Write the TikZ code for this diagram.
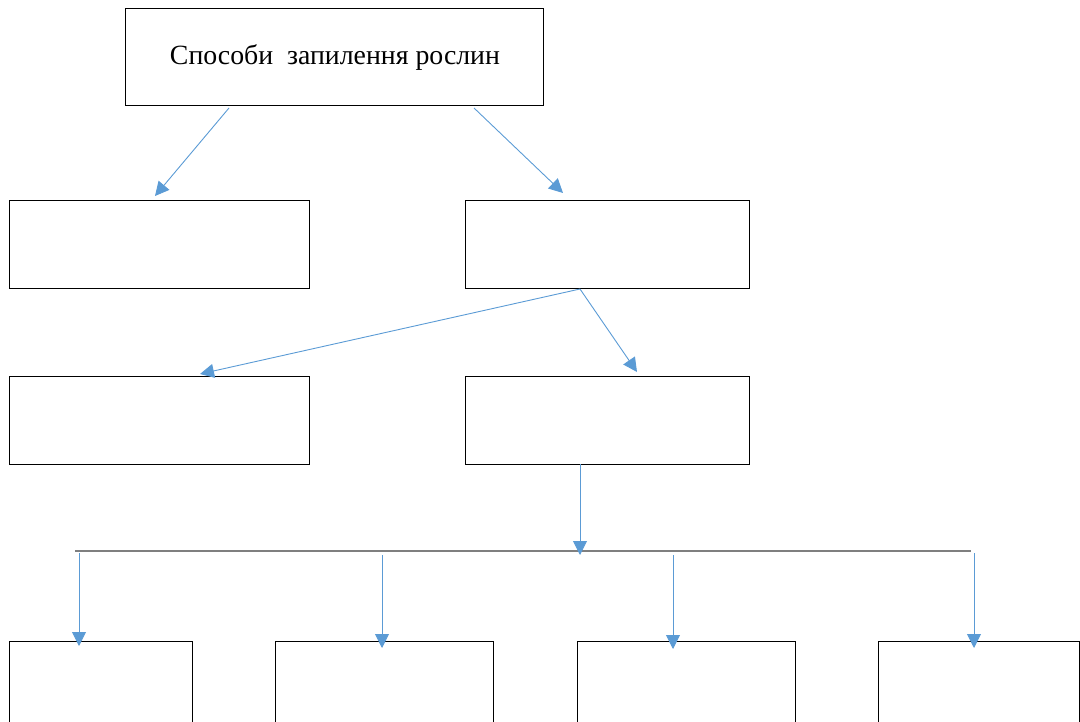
\documentclass[tikz,border=0pt]{standalone}
\usepackage{fontspec}
\setmainfont{Liberation Serif}
\usetikzlibrary{arrows.meta}
\definecolor{arrowblue}{HTML}{5B9BD5}
\definecolor{railgray}{HTML}{7F7F7F}
\tikzset{
  box/.style={draw=black, line width=0.9pt, fill=white, inner sep=0pt, anchor=north west},
  link/.style={draw=arrowblue, line width=0.9pt, -{Triangle[width=14pt,length=14pt]}},
  rail/.style={draw=railgray, line width=1.6pt}
}
\begin{document}
\begin{tikzpicture}[x=1pt,y=-1pt]
\useasboundingbox (0,0) rectangle (1080,722);
\clip (0,0) rectangle (1080,722);

% main box
\node[box, minimum width=418pt, minimum height=97pt] (top) at (125,8) {};
\node[font=\fontsize{27.8}{32}\selectfont] (title) at (335,58) {Способи\ \ запилення рослин};

% second row
\node[box, minimum width=300pt, minimum height=88pt] (l2) at (9,200) {};
\node[box, minimum width=284pt, minimum height=88pt] (r2) at (465,200) {};

% third row
\node[box, minimum width=300pt, minimum height=88pt] (l3) at (9,376) {};
\node[box, minimum width=284pt, minimum height=88pt] (r3) at (465,376) {};

% bottom row (runs past the lower edge)
\node[box, minimum width=183pt, minimum height=110pt] (b1) at (9,641) {};
\node[box, minimum width=218pt, minimum height=110pt] (b2) at (275,641) {};
\node[box, minimum width=218pt, minimum height=110pt] (b3) at (577,641) {};
\node[box, minimum width=201pt, minimum height=110pt] (b4) at (878,641) {};

% connector end points
\coordinate (topL) at (229,108);
\coordinate (topR) at (474,108);
\coordinate (l2in) at (155,196);
\coordinate (r2in) at (563,193);
\coordinate (r2out) at (580,289);
\coordinate (l3in) at (200,374);
\coordinate (r3in) at (637,372);
\coordinate (r3out) at (580,464);
\coordinate (railin) at (580,555);
\coordinate (railW) at (75,551);
\coordinate (railE) at (971,551);
\coordinate (d1) at (79,553);
\coordinate (d2) at (382,555);
\coordinate (d3) at (673,555);
\coordinate (d4) at (974,553);
\coordinate (b1in) at (79,646);
\coordinate (b2in) at (382,648);
\coordinate (b3in) at (673,649);
\coordinate (b4in) at (974,648);

% distribution rail
\draw[rail] (railW) -- (railE);

% arrows
\draw[link] (topL) -- (l2in);
\draw[link] (topR) -- (r2in);
\draw[link] (r2out) -- (l3in);
\draw[link] (r2out) -- (r3in);
\draw[link] (r3out) -- (railin);
\draw[link] (d1) -- (b1in);
\draw[link] (d2) -- (b2in);
\draw[link] (d3) -- (b3in);
\draw[link] (d4) -- (b4in);
\end{tikzpicture}
\end{document}
